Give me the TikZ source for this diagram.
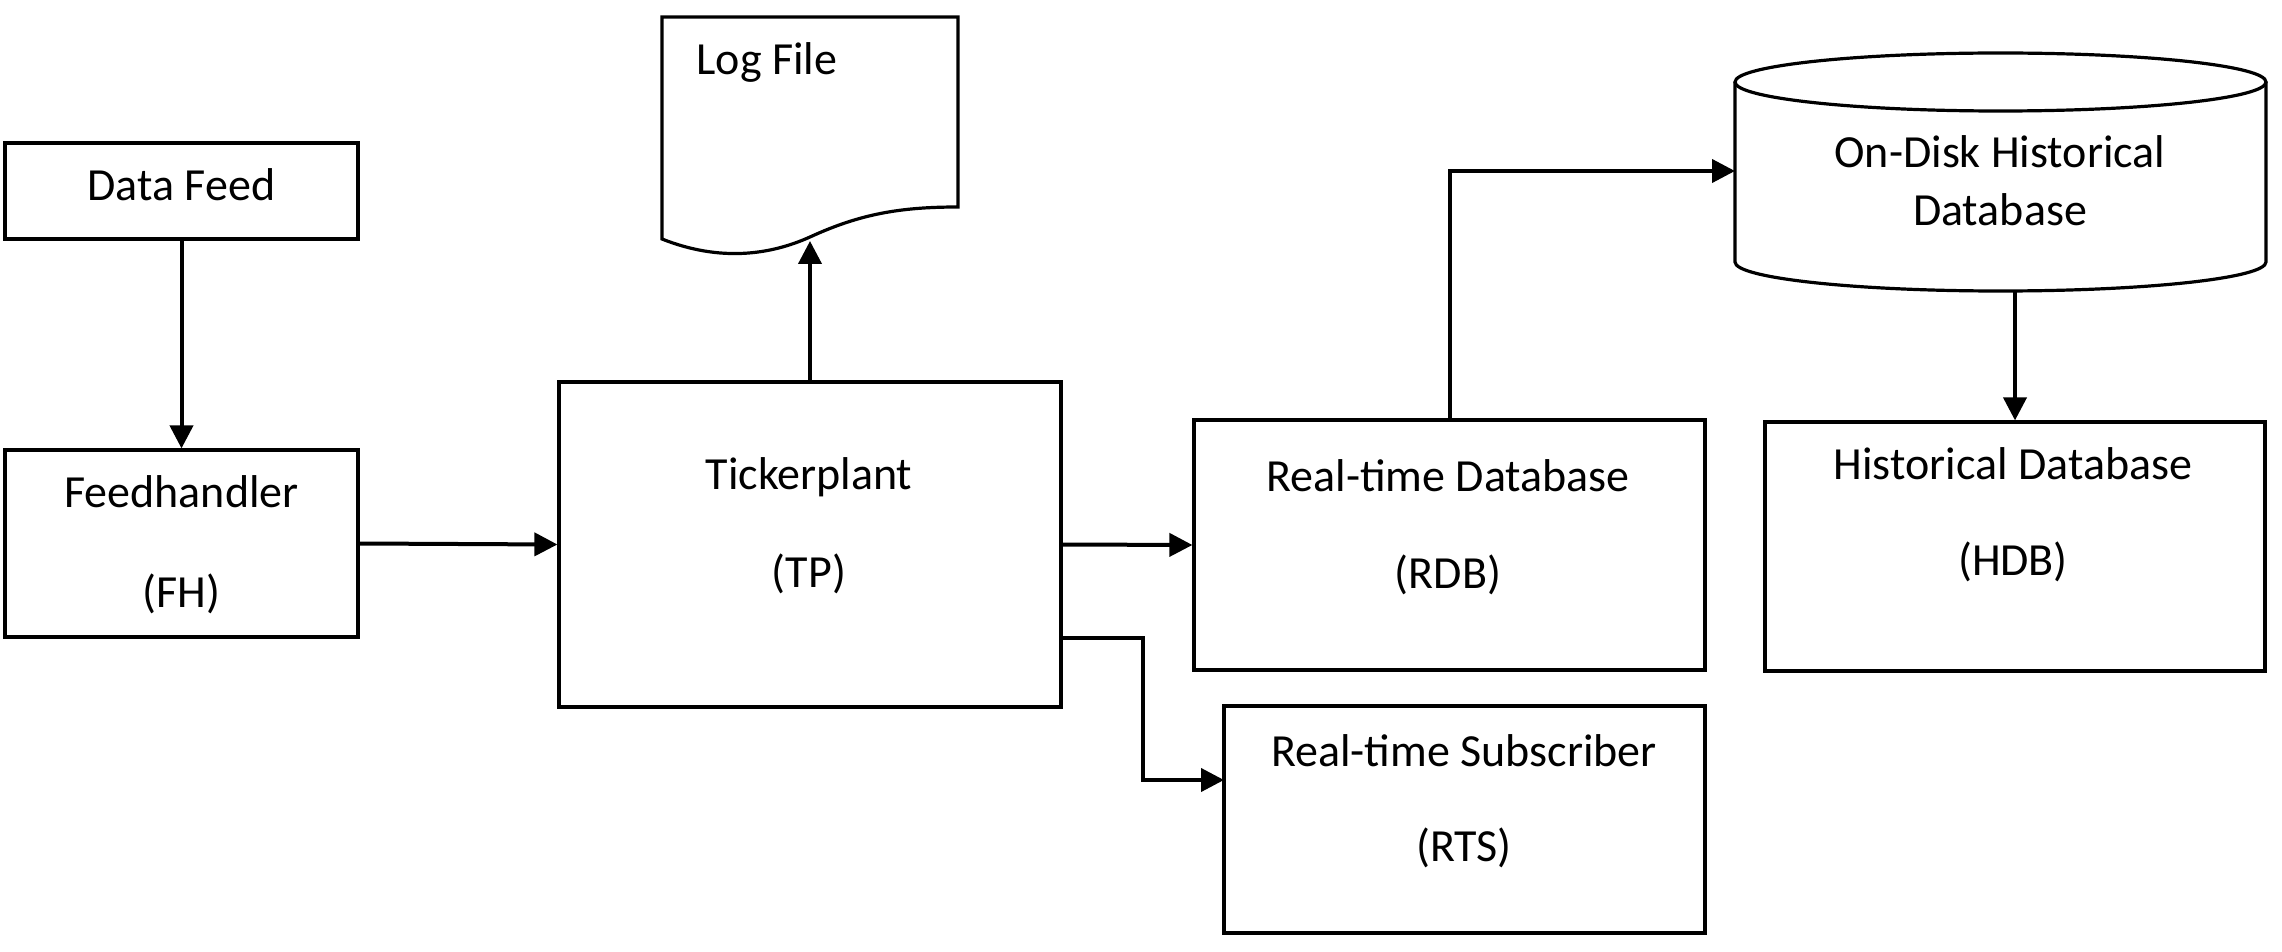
\documentclass[tikz,border=0pt]{standalone}
\usepackage{fontspec}
\setmainfont{Carlito}
\usetikzlibrary{arrows.meta}
\begin{document}
\begin{tikzpicture}[x=0.5pt,y=-0.5pt,
  box/.style={draw, line width=1.6pt, inner sep=0pt},
  txt/.style={anchor=base, inner sep=0pt, font=\fontsize{23}{28}\selectfont},
  arr/.style={line width=2pt, -{Triangle[length=11.5pt,width=11.5pt]}},
  shp/.style={line width=1.6pt}]
\useasboundingbox (0,0) rectangle (2282,952);
% boxes
\node[box, minimum width=176.5pt, minimum height=48pt] (df) at (181.5,191) {};
\node[box, minimum width=176.5pt, minimum height=93.5pt] (fh) at (181.5,543.5) {};
\node[box, minimum width=251pt, minimum height=162.5pt] (tp) at (810,544.5) {};
\node[box, minimum width=255.5pt, minimum height=125pt] (rdb) at (1449.5,545) {};
\node[box, minimum width=240.5pt, minimum height=113.5pt] (rts) at (1464.5,819.5) {};
\node[box, minimum width=250pt, minimum height=124.5pt] (hdb) at (2015,546.5) {};
% log file
\draw[shp] (662,17) -- (958,17) -- (958,207)
  .. controls (900,207) and (860,214) .. (810,237)
  .. controls (770,255) and (720,262) .. (662,239) -- cycle;
% cylinder
\draw[shp] (2000.5,82) ellipse [x radius=265.5, y radius=29];
\draw[shp] (1735,82) -- (1735,262) arc[start angle=180, end angle=0, x radius=265.5, y radius=29] -- (2266,82);
% coordinates
\coordinate (logb) at (810,241);
\coordinate (cylin) at (1735,171);
\coordinate (cylb) at (2015,291);
\coordinate (tpo) at (1061,638);
\coordinate (rtsin) at (1224,780);
% texts
\node[txt] (tdf) at (181.5,201) {Data Feed};
\node[txt] (tfh1) at (181.5,507) {Feedhandler};
\node[txt] (tfh2) at (181.5,607) {(FH)};
\node[txt] (ttp1) at (809,489) {Tickerplant};
\node[txt] (ttp2) at (809,587) {(TP)};
\node[txt] (tlog) at (767,75) {Log File};
\node[txt] (trdb1) at (1448,491) {Real-time Database};
\node[txt] (trdb2) at (1448,588) {(RDB)};
\node[txt] (trts1) at (1464,766) {Real-time Subscriber};
\node[txt] (trts2) at (1464,861) {(RTS)};
\node[txt] (tod1) at (2000,168) {On-Disk Historical};
\node[txt] (tod2) at (2000,226) {Database};
\node[txt] (thdb1) at (2013,479) {Historical Database};
\node[txt] (thdb2) at (2013,575) {(HDB)};
% connectors
\draw[arr] (df.south) -- (fh.north);
\draw[arr] (fh.east) -- (tp.west);
\draw[arr] (tp.north) -- (logb);
\draw[arr] (tp.east) -- (rdb.west);
\draw[arr] (tpo) -- ++(82,0) |- (rtsin);
\draw[arr] (rdb.north) |- (cylin);
\draw[arr] (cylb) -- (hdb.north);
\end{tikzpicture}
\end{document}
